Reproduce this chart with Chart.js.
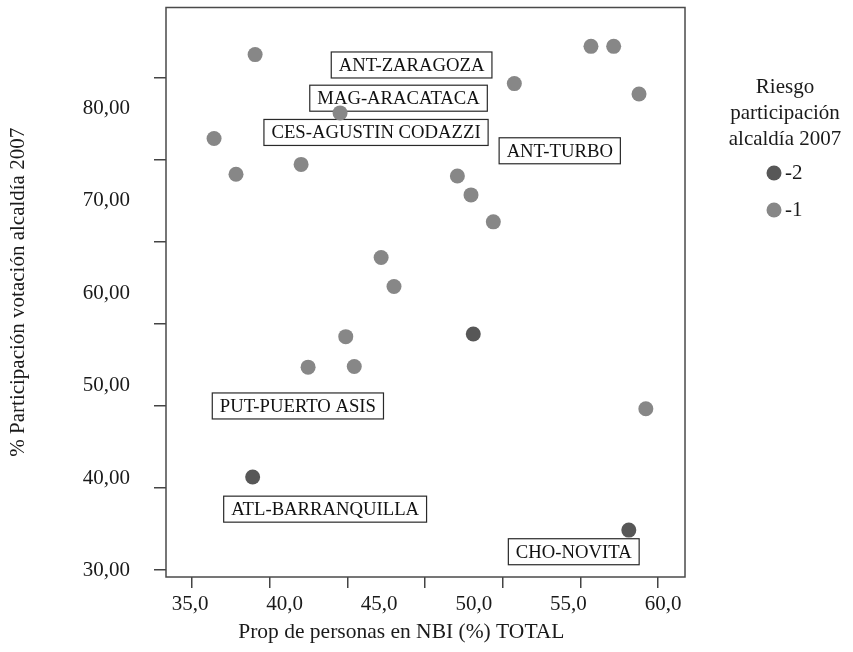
<!DOCTYPE html>
<html>
<head>
<meta charset="utf-8">
<script src="https://cdn.jsdelivr.net/npm/chart.js@4"></script>
<style>
  html, body { margin: 0; padding: 0; background: #fff; }
</style>
</head>
<body>
<canvas id="chart" width="853" height="652"></canvas>
<script>
// Riesgo participación -2
const riesgo2X = [49.97, 38.31, 58.19];
const riesgo2Y = [55.61, 40.16, 34.42];

// Riesgo participación -1
const riesgo1X = [38.44, 56.19, 57.39, 52.14, 58.73, 42.93, 36.27, 40.87, 37.43,
                  49.13, 49.85, 51.03, 45.10, 45.78, 43.23, 41.24, 43.68, 59.09];
const riesgo1Y = [85.79, 86.68, 86.68, 82.66, 81.54, 79.49, 76.73, 73.93, 72.86,
                  72.67, 70.63, 67.72, 63.87, 60.74, 55.32, 52.02, 52.09, 47.53];

const seriesLabels = ['-2', '-1'];
const legendTitle = ['Riesgo', 'participación', 'alcaldía 2007'];

// Etiquetas de municipios (centro del recuadro en unidades de los ejes)
const muniNames = ['ANT-ZARAGOZA', 'MAG-ARACATACA', 'CES-AGUSTIN CODAZZI', 'ANT-TURBO',
                   'PUT-PUERTO ASIS', 'ATL-BARRANQUILLA', 'CHO-NOVITA'];
const muniX = [46.71, 46.02, 44.83, 54.54, 40.70, 42.14, 55.28];
const muniY = [84.67, 81.08, 77.38, 75.40, 47.83, 36.68, 32.08];

// Etiquetas de los ejes
const xTicks = [35, 40, 45, 50, 55, 60];
const yTicks = [30, 40, 50, 60, 70, 80];

const serif = "'Liberation Serif', 'Times New Roman', serif";
Chart.defaults.font.family = serif;
Chart.defaults.font.size = 21;
Chart.defaults.color = '#1a1a1a';

const toPoints = (xs, ys) => xs.map((x, i) => ({ x: x, y: ys[i] }));

// Marco del área del gráfico y recuadros de municipios
const framePlugin = {
    id: 'frame',
    beforeDatasetsDraw(chart) {
        const { ctx, chartArea: a, scales } = chart;
        ctx.save();
        ctx.strokeStyle = '#4a4a4a';
        ctx.lineWidth = 1.5;
        ctx.strokeRect(a.left, a.top, a.right - a.left, a.bottom - a.top);

        ctx.font = '18.7px ' + serif;
        ctx.textAlign = 'center';
        ctx.textBaseline = 'middle';
        muniNames.forEach((name, i) => {
            const px = scales.x.getPixelForValue(muniX[i]);
            const py = scales.y.getPixelForValue(muniY[i]);
            const w = ctx.measureText(name).width + 15;
            const h = 26;
            ctx.fillStyle = '#fff';
            ctx.fillRect(px - w / 2, py - h / 2, w, h);
            ctx.strokeStyle = '#2a2a2a';
            ctx.lineWidth = 1.2;
            ctx.strokeRect(px - w / 2, py - h / 2, w, h);
            ctx.fillStyle = '#111';
            ctx.fillText(name, px, py + 1);
        });
        ctx.restore();
    },
    // título de la leyenda en tres líneas, centrado sobre la leyenda
    afterDraw(chart) {
        const lg = chart.legend;
        const ctx = chart.ctx;
        ctx.save();
        ctx.font = '21px ' + serif;
        ctx.fillStyle = '#1a1a1a';
        ctx.textAlign = 'center';
        ctx.textBaseline = 'middle';
        const cx = lg.left + lg.width / 2;
        legendTitle.forEach((line, i) => ctx.fillText(line, cx, lg.top + 81 + i * 26));
        ctx.restore();
    }
};

const zeroPadding = s => { s.paddingTop = 0; s.paddingBottom = 0; s.paddingLeft = 0; s.paddingRight = 0; };

new Chart(document.getElementById('chart').getContext('2d'), {
    type: 'scatter',
    data: {
        datasets: [{
            label: seriesLabels[0],
            data: toPoints(riesgo2X, riesgo2Y),
            backgroundColor: '#575757',
            borderColor: '#575757',
            borderWidth: 0,
            pointRadius: 7.5,
            pointStyle: 'circle'
        }, {
            label: seriesLabels[1],
            data: toPoints(riesgo1X, riesgo1Y),
            backgroundColor: '#878787',
            borderColor: '#878787',
            borderWidth: 0,
            pointRadius: 7.5,
            pointStyle: 'circle'
        }]
    },
    options: {
        responsive: false,
        animation: false,
        layout: { padding: { top: 6, right: 40.5, bottom: 0, left: 0 } },
        plugins: {
            tooltip: { enabled: false },
            legend: {
                position: 'right',
                align: 'start',
                title: {
                    display: true,
                    text: '',
                    font: { size: 21, lineHeight: 26 / 21 },
                    padding: { top: 114.5, bottom: 0 }
                },
                labels: {
                    usePointStyle: true,
                    pointStyle: 'circle',
                    boxWidth: 1,
                    boxHeight: 10.6,
                    padding: 16,
                    font: { size: 21 },
                    color: '#1a1a1a'
                }
            }
        },
        scales: {
            x: {
                type: 'linear',
                position: 'bottom',
                weight: 1,
                min: 33.73,
                max: 61.16,
                afterBuildTicks: s => { s.ticks = xTicks.map(v => ({ value: v })); },
                afterFit: s => { s.height = 64; zeroPadding(s); },
                grid: { display: false, drawTicks: false },
                border: { display: false },
                ticks: {
                    padding: 3.4,
                    maxRotation: 0,
                    autoSkip: false,
                    callback: v => v.toFixed(1).replace('.', ',')
                },
                title: {
                    display: true,
                    text: 'Prop de personas en NBI (%) TOTAL\u00a0\u00a0\u00a0\u00a0\u00a0\u00a0\u00a0\u00a0\u00a0',
                    font: { size: 21.5 },
                    padding: { top: 0, bottom: 6.4 }
                }
            },
            xMarks: {
                type: 'linear',
                position: 'bottom',
                weight: 0,
                min: -0.335,
                max: 6.345,
                afterFit: zeroPadding,
                ticks: { display: false, stepSize: 1, includeBounds: false },
                grid: { display: true, drawOnChartArea: false, drawTicks: true, tickLength: 11, color: '#444', lineWidth: 1.5 },
                border: { display: false }
            },
            y: {
                type: 'linear',
                position: 'left',
                weight: 1,
                min: 29.35,
                max: 90.88,
                afterBuildTicks: s => { s.ticks = yTicks.map(v => ({ value: v })); },
                afterFit: s => { s.width = 154; zeroPadding(s); },
                grid: { display: false, drawTicks: false },
                border: { display: false },
                ticks: {
                    padding: 24,
                    autoSkip: false,
                    callback: v => v.toFixed(2).replace('.', ',')
                },
                title: {
                    display: true,
                    text: '% Participación votación alcaldía 2007',
                    padding: { top: 5.4, bottom: 0 }
                }
            },
            yMarks: {
                type: 'linear',
                position: 'left',
                weight: 0,
                min: -0.085,
                max: 6.85,
                afterFit: zeroPadding,
                ticks: { display: false, stepSize: 1, includeBounds: false },
                grid: { display: true, drawOnChartArea: false, drawTicks: true, tickLength: 12, color: '#444', lineWidth: 1.5 },
                border: { display: false }
            },
            spacer: {
                type: 'linear',
                position: 'right',
                ticks: { display: false },
                grid: { display: false, drawTicks: false },
                border: { display: false },
                afterFit: s => { s.width = 72.5; zeroPadding(s); }
            }
        }
    },
    plugins: [framePlugin]
});
</script>
</body>
</html>
